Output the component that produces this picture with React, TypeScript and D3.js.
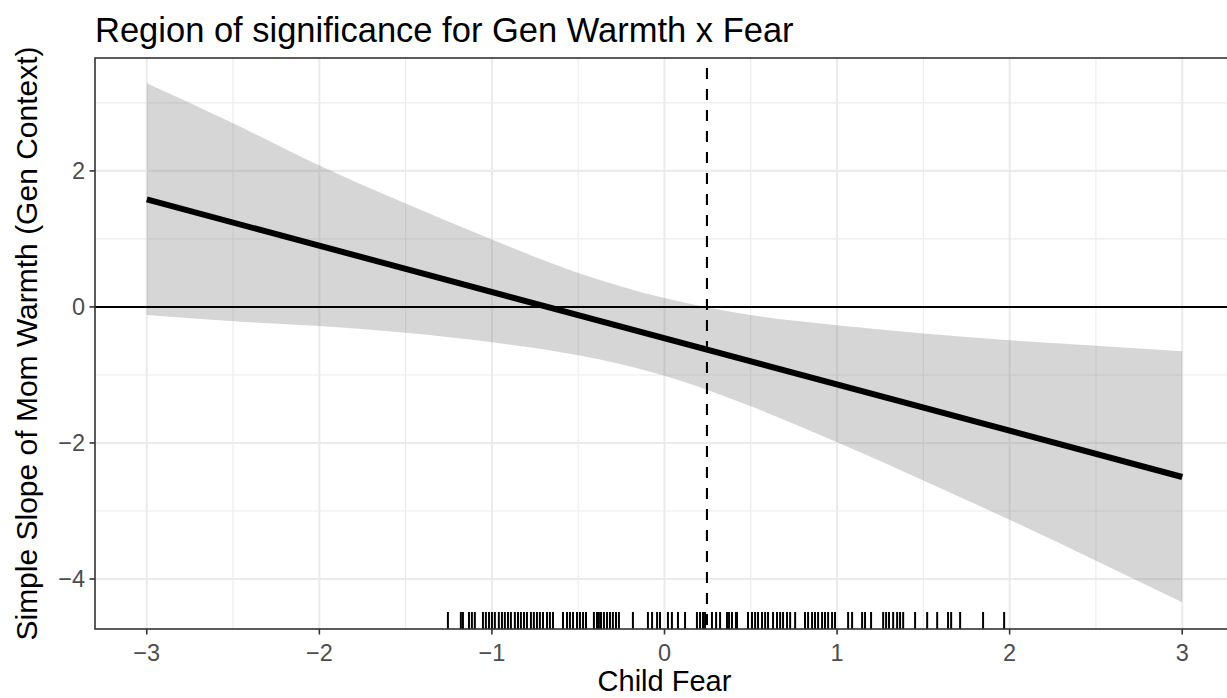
import React from "react";
import * as d3 from "d3";

const title = "Region of significance for Gen Warmth x Fear";
const xTitle = "Child Fear";
const yTitle = "Simple Slope of Mom Warmth (Gen Context)";

const xTicks = [-3, -2, -1, 0, 1, 2, 3];
const yTicks = [-4, -2, 0, 2];
const xMinor = [-2.5, -1.5, -0.5, 0.5, 1.5, 2.5];
const yMinor = [-3, -1, 1, 3];

// confidence band
const bandX = [-3, -2.5, -2, -1.5, -1, -0.5, 0, 0.5, 1, 1.5, 2, 2.5, 3];
const bandUpper = [3.29, 2.7, 2.08, 1.52, 0.99, 0.5, 0.13, -0.12, -0.27, -0.39, -0.49, -0.57, -0.65];
const bandLower = [-0.12, -0.21, -0.28, -0.38, -0.52, -0.71, -1.01, -1.46, -1.99, -2.55, -3.13, -3.73, -4.34];

// simple slope line
const slopeX = [-3, 3];
const slopeY = [1.58, -2.5];

// Johnson-Neyman boundary
const jnPoint = 0.246;

// rug of observed moderator values
const rugValues = [
  -1.255, -1.18, -1.168, -1.133, -1.116, -1.099,
  -1.052, -1.035, -1.017, -1.0, -0.983, -0.96, -0.942, -0.925, -0.907, -0.89, -0.867, -0.849,
  -0.832, -0.814, -0.797, -0.774, -0.757, -0.739, -0.722, -0.704, -0.681, -0.664, -0.646,
  -0.588, -0.565, -0.548, -0.53, -0.507, -0.49, -0.472, -0.455,
  -0.409, -0.391, -0.38, -0.368, -0.351, -0.333, -0.316, -0.299, -0.281, -0.264,
  -0.183, -0.096, -0.072, -0.043, -0.026, 0.02, 0.043, 0.078, 0.119,
  0.188, 0.206, 0.223, 0.235, 0.275, 0.299, 0.322,
  0.362, 0.374, 0.391, 0.414, 0.42,
  0.484, 0.507, 0.525, 0.542, 0.565, 0.583, 0.6,
  0.629, 0.652, 0.67, 0.687, 0.71, 0.728, 0.757,
  0.814, 0.832, 0.855, 0.872, 0.89, 0.913, 0.93, 0.948, 0.971, 0.988,
  1.064, 1.087, 1.145, 1.162, 1.197,
  1.267, 1.284, 1.301, 1.325, 1.348, 1.365, 1.383,
  1.452, 1.522, 1.58, 1.643, 1.661, 1.713, 1.846, 1.968,
];

const W = 1227;
const H = 698;
const panel = { left: 95, top: 58, right: 1234, bottom: 629 };
const FONT = "'Liberation Sans', Arial, Helvetica, sans-serif";

const fmt = (v: number) => (v < 0 ? "\u2212" + Math.abs(v) : String(v));

export default function App() {
  const x = d3.scaleLinear().domain([-3.3, 3.3]).range([panel.left, panel.right]);
  const y = d3.scaleLinear().domain([-4.735, 3.66]).range([panel.bottom, panel.top]);

  const bandData = bandX.map((v, i) => ({ x: v, lo: bandLower[i], hi: bandUpper[i] }));
  const area = d3
    .area<{ x: number; lo: number; hi: number }>()
    .x((d) => x(d.x))
    .y0((d) => y(d.lo))
    .y1((d) => y(d.hi))
    .curve(d3.curveMonotoneX);

  const line = d3
    .line<number>()
    .x((_, i) => x(slopeX[i]))
    .y((d) => y(d));

  const rugLen = 17;

  return (
    <svg
      width={W}
      height={H}
      style={{ position: "absolute", left: 0, top: 0, background: "#fff" }}
      fontFamily={FONT}
    >
      <rect x={0} y={0} width={W} height={H} fill="#fff" />
      <defs>
        <clipPath id="pclip">
          <rect x={panel.left} y={panel.top} width={panel.right - panel.left} height={panel.bottom - panel.top} />
        </clipPath>
      </defs>
      <g clipPath="url(#pclip)">
        {xMinor.map((v) => (
          <line key={"xm" + v} x1={x(v)} x2={x(v)} y1={panel.top} y2={panel.bottom} stroke="#ebebeb" strokeWidth={1.1} />
        ))}
        {yMinor.map((v) => (
          <line key={"ym" + v} x1={panel.left} x2={panel.right} y1={y(v)} y2={y(v)} stroke="#ebebeb" strokeWidth={1.1} />
        ))}
        {xTicks.map((v) => (
          <line key={"xg" + v} x1={x(v)} x2={x(v)} y1={panel.top} y2={panel.bottom} stroke="#ebebeb" strokeWidth={2.1} />
        ))}
        {yTicks.map((v) => (
          <line key={"yg" + v} x1={panel.left} x2={panel.right} y1={y(v)} y2={y(v)} stroke="#ebebeb" strokeWidth={2.1} />
        ))}
        <path d={area(bandData) || ""} fill="#7f7f7f" fillOpacity={0.32} />
        <line x1={panel.left} x2={panel.right} y1={y(0)} y2={y(0)} stroke="#000" strokeWidth={2.1} />
        <path d={line(slopeY) || ""} fill="none" stroke="#000" strokeWidth={6} />
        <line
          x1={x(jnPoint)}
          x2={x(jnPoint)}
          y1={panel.top}
          y2={panel.bottom}
          stroke="#000"
          strokeWidth={2.1}
          strokeDasharray="11,10"
          strokeDashoffset={11}
        />
        {rugValues.map((v, i) => (
          <line key={"r" + i} x1={x(v)} x2={x(v)} y1={panel.bottom} y2={panel.bottom - rugLen} stroke="#000" strokeWidth={2} />
        ))}
      </g>
      <rect
        x={panel.left}
        y={panel.top}
        width={panel.right - panel.left}
        height={panel.bottom - panel.top}
        fill="none"
        stroke="#333333"
        strokeWidth={1.6}
      />
      {xTicks.map((v) => (
        <g key={"xt" + v}>
          <line x1={x(v)} x2={x(v)} y1={panel.bottom} y2={panel.bottom + 5.5} stroke="#333333" strokeWidth={1.6} />
          <text x={x(v)} y={panel.bottom + 24} textAnchor="middle" dominantBaseline="central" fontSize={23.5} fill="#4d4d4d">
            {fmt(v)}
          </text>
        </g>
      ))}
      {yTicks.map((v) => (
        <g key={"yt" + v}>
          <line x1={panel.left - 5.5} x2={panel.left} y1={y(v)} y2={y(v)} stroke="#333333" strokeWidth={1.6} />
          <text x={panel.left - 10} y={y(v)} textAnchor="end" dominantBaseline="central" fontSize={23.5} fill="#4d4d4d">
            {fmt(v)}
          </text>
        </g>
      ))}
      <text x={(panel.left + 1234) / 2} y={691} textAnchor="middle" fontSize={29} fill="#000">
        {xTitle}
      </text>
      <text
        transform={`translate(36.5, ${(panel.top + panel.bottom) / 2}) rotate(-90)`}
        textAnchor="middle"
        fontSize={30}
        fill="#000"
      >
        {yTitle}
      </text>
      <text x={panel.left} y={42} fontSize={34.5} fill="#000">
        {title}
      </text>
    </svg>
  );
}
